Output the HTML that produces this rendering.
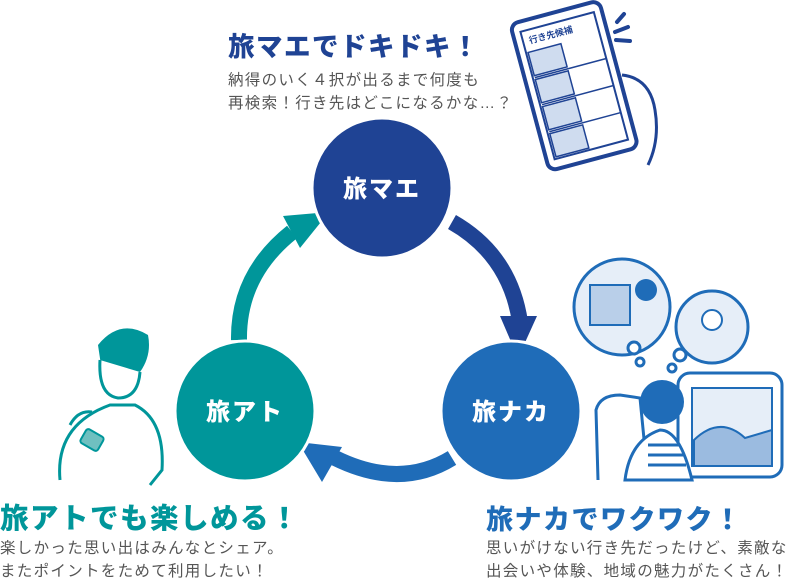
<!DOCTYPE html>
<html><head><meta charset="utf-8"><style>
html,body{margin:0;padding:0;background:#fff;}
body{width:800px;height:581px;position:relative;overflow:hidden;font-family:"Liberation Sans","Noto Sans CJK JP",sans-serif;}
.t{position:absolute;white-space:nowrap;font-weight:900;letter-spacing:1.5px;}
.b{position:absolute;white-space:nowrap;color:#555;font-size:15.5px;line-height:23px;letter-spacing:1.3px;}
svg{position:absolute;left:0;top:0;}
</style></head><body>
<svg width="800" height="581" viewBox="0 0 800 581">
<path d="M239 340 Q238 275 292 232" fill="none" stroke="#00969a" stroke-width="16"/>
<polygon points="329,212 283,216 300,248" fill="#00969a"/>
<path d="M452 222 Q510 255 520 322" fill="none" stroke="#1f4394" stroke-width="16"/>
<polygon points="500,316 537,316 518,358" fill="#1f4394"/>
<path d="M452 458 Q400 490 335 458" fill="none" stroke="#1f6cb8" stroke-width="16"/>
<polygon points="298,442 342,447 322,482" fill="#1f6cb8"/>
<circle cx="382" cy="188" r="70" fill="#1f4394" stroke="#fff" stroke-width="3"/>
<circle cx="511" cy="411" r="70" fill="#1f6cb8" stroke="#fff" stroke-width="3"/>
<circle cx="245" cy="411" r="70" fill="#00969a" stroke="#fff" stroke-width="3"/>
<text x="382" y="197" fill="#fff" font-size="24" font-weight="900" text-anchor="middle" font-family="Liberation Sans,Noto Sans CJK JP,sans-serif" letter-spacing="2">旅マエ</text>
<text x="511" y="420" fill="#fff" font-size="24" font-weight="900" text-anchor="middle" font-family="Liberation Sans,Noto Sans CJK JP,sans-serif" letter-spacing="2">旅ナカ</text>
<text x="245" y="420" fill="#fff" font-size="24" font-weight="900" text-anchor="middle" font-family="Liberation Sans,Noto Sans CJK JP,sans-serif" letter-spacing="2">旅アト</text>
<g transform="rotate(-15 573 85)">
<rect x="528" y="10" width="92" height="152" rx="8" fill="#fff" stroke="#1f4394" stroke-width="4"/>
<rect x="536" y="20" width="76" height="132" fill="#fff" stroke="#1f4394" stroke-width="2"/>
<text x="542" y="34" font-size="9" font-weight="700" fill="#1f4394" font-family="Noto Sans CJK JP,sans-serif">行き先候補</text>
<g fill="#cfdcef" stroke="#1f4394" stroke-width="1.5">
<rect x="538" y="42" width="34" height="24"/><rect x="538" y="70" width="34" height="24"/>
<rect x="538" y="98" width="34" height="24"/><rect x="538" y="126" width="34" height="24"/>
</g>
<g stroke="#1f4394" stroke-width="1.5"><line x1="538" y1="68" x2="612" y2="68"/><line x1="538" y1="96" x2="612" y2="96"/><line x1="538" y1="124" x2="612" y2="124"/></g>
</g>
<path d="M622 75 Q650 78 655 110 Q660 140 648 165" fill="#fff" stroke="#1f4394" stroke-width="3"/>
<g stroke="#1f4394" stroke-width="4" stroke-linecap="round"><line x1="617" y1="22" x2="624" y2="14"/><line x1="615" y1="32" x2="628" y2="27"/><line x1="616" y1="40" x2="630" y2="41"/></g>
<circle cx="622" cy="307" r="48" fill="#e6eef8" stroke="#1f6cb8" stroke-width="3"/>
<rect x="590" y="285" width="40" height="40" fill="#b9cfe9" stroke="#1f6cb8" stroke-width="2"/>
<circle cx="646" cy="290" r="11" fill="#1f6cb8"/>
<circle cx="712" cy="327" r="36" fill="#e6eef8" stroke="#1f6cb8" stroke-width="3"/>
<circle cx="712" cy="320" r="10" fill="#fff" stroke="#1f6cb8" stroke-width="2"/>
<circle cx="634" cy="348" r="6" fill="#fff" stroke="#1f6cb8" stroke-width="3"/>
<circle cx="640" cy="362" r="4" fill="#fff" stroke="#1f6cb8" stroke-width="3"/>
<circle cx="680" cy="355" r="6" fill="#fff" stroke="#1f6cb8" stroke-width="3"/>
<circle cx="672" cy="368" r="4" fill="#fff" stroke="#1f6cb8" stroke-width="3"/>
<rect x="678" y="373" width="104" height="104" rx="12" fill="#fff" stroke="#1f6cb8" stroke-width="3"/>
<rect x="692" y="388" width="80" height="78" fill="#e6eef8" stroke="#1f6cb8" stroke-width="2"/>
<path d="M694 440 Q720 415 745 438 L772 430 L772 466 L694 466Z" fill="#9bbbe0" stroke="#1f6cb8" stroke-width="2"/>
<path d="M598 480 L596 410 Q600 395 620 395 L640 398 L648 480" fill="#fff" stroke="#1f6cb8" stroke-width="3"/>
<circle cx="662" cy="402" r="22" fill="#1f6cb8"/>
<path d="M625 480 Q630 440 660 430 Q680 430 692 480Z" fill="#fff" stroke="#1f6cb8" stroke-width="3"/>
<g stroke="#1f6cb8" stroke-width="3"><line x1="648" y1="445" x2="680" y2="445"/><line x1="648" y1="455" x2="684" y2="455"/><line x1="648" y1="465" x2="686" y2="465"/></g>
<path d="M98 345 Q120 318 148 335 Q152 355 140 372 L102 372Z" fill="#00969a"/>
<path d="M100 360 Q98 395 118 398 Q138 398 140 372" fill="#fff" stroke="#00969a" stroke-width="3"/>
<path d="M60 480 Q55 425 110 405 L135 405 Q165 420 162 470 L150 485" fill="#fff" stroke="#00969a" stroke-width="3"/>
<rect x="82" y="432" width="20" height="16" rx="3" fill="#6fc0c0" stroke="#00969a" stroke-width="2" transform="rotate(30 92 440)"/>
<path d="M70 425 Q78 410 92 412" fill="none" stroke="#00969a" stroke-width="3"/>
</svg>
<div class="t" style="left:228px;top:25px;font-size:26.5px;color:#1f4394;">旅マエでドキドキ！</div>
<div class="b" style="left:228px;top:69px;">納得のいく４択が出るまで何度も<br>再検索！行き先はどこになるかな…？</div>
<div class="t" style="left:0px;top:496px;font-size:28.5px;color:#00969a;">旅アトでも楽しめる！</div>
<div class="b" style="left:0px;top:537px;">楽しかった思い出はみんなとシェア。<br>またポイントをためて利用したい！</div>
<div class="t" style="left:486px;top:498px;font-size:27px;color:#1f6cb8;">旅ナカでワクワク！</div>
<div class="b" style="left:486px;top:537px;">思いがけない行き先だったけど、素敵な<br>出会いや体験、地域の魅力がたくさん！</div>
</body></html>
